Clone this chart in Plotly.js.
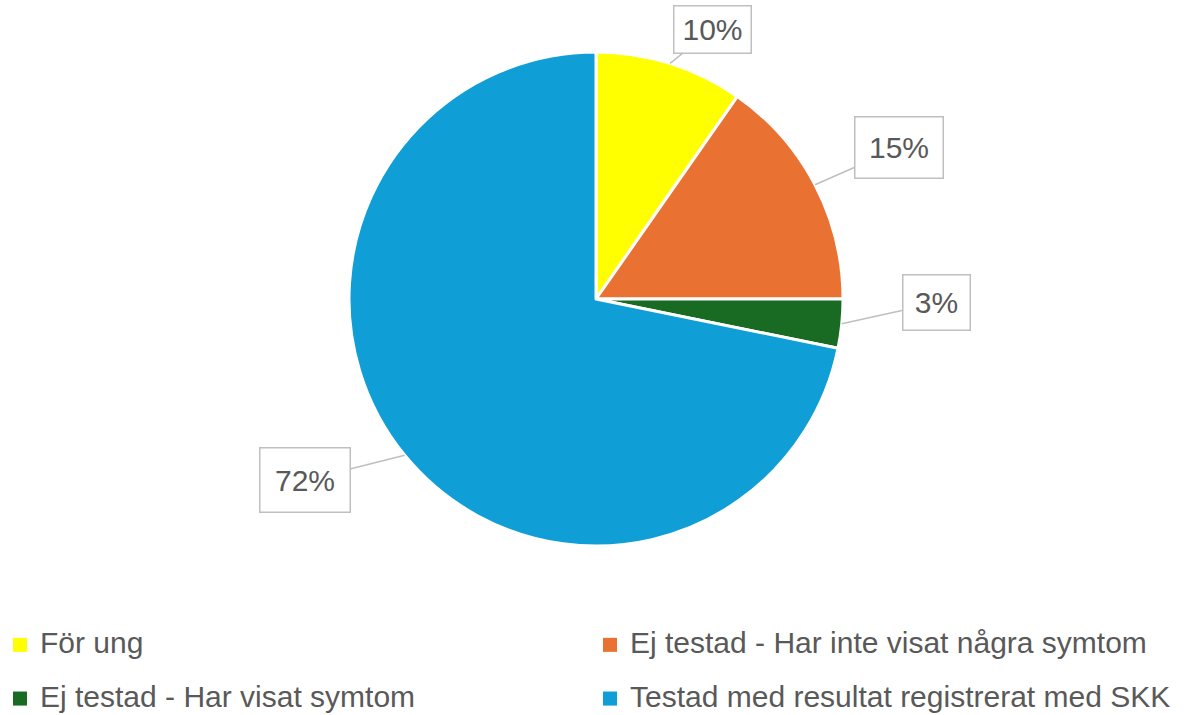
<!DOCTYPE html>
<html>
<head>
<meta charset="utf-8">
<script src="https://cdn.plot.ly/plotly-3.0.1.min.js"></script>
<style>
html,body{margin:0;padding:0;background:#fff;}
#chart{width:1197px;height:715px;}
#chart .legendpoints path{stroke-width:0 !important;}
#chart .legendpoints{transform:translate(-3.4px,7px) scale(1.17);}
</style>
</head>
<body>
<div id="chart"></div>
<script>
// Data
const categories = [
  "För ung",
  "Ej testad - Har inte visat några symtom",
  "Ej testad - Har visat symtom",
  "Testad med resultat registrerat med SKK"
];
const shares = [9.7, 15.3, 3.2, 71.8];
const colors = ["#FFFF00", "#E97132", "#196B24", "#0F9ED5"];

// Style / geometry
const W = 1197, H = 715;
const cx = 596, cy = 299, R = 247;
const labelOffsets = [[42, -34], [84, -37], [95, -21], [-100, 25]];
const boxSizes = [[76, 46], [87, 60], [66, 54], [89, 63]];
const textColor = "#595959";
const fontFam = "Liberation Sans, Arial, sans-serif";

const total = shares.reduce((a, b) => a + b, 0);
let cum = 0;
const annotations = shares.map((v, i) => {
  const mid = (cum + v / 2) / total;
  cum += v;
  const a = mid * 2 * Math.PI;
  const px = cx + R * Math.sin(a);
  const py = cy - R * Math.cos(a);
  return {
    x: px / W, y: 1 - py / H, xref: "paper", yref: "paper",
    text: Math.round(v / total * 100) + "%",
    showarrow: true, arrowhead: 0, arrowwidth: 1.5, arrowcolor: "#BFBFBF",
    ax: labelOffsets[i][0], ay: labelOffsets[i][1], standoff: 0,
    xanchor: "center", yanchor: "middle",
    width: boxSizes[i][0], height: boxSizes[i][1],
    bgcolor: "#FFFFFF", bordercolor: "#BFBFBF", borderwidth: 1.5, borderpad: 0,
    font: {family: fontFam, size: 30, color: textColor}
  };
});

const trace = {
  type: "pie",
  labels: categories.map(c => '<span style="font-size:30px">' + c + '</span>'),
  values: shares,
  sort: false,
  direction: "clockwise",
  rotation: 0,
  textinfo: "none",
  hoverinfo: "label+percent",
  marker: {colors: colors, line: {color: "#FFFFFF", width: 3}},
  domain: {x: [(cx - R) / W, (cx + R) / W], y: [1 - (cy + R) / H, 1 - (cy - R) / H]}
};

const layout = {
  width: W, height: H,
  margin: {l: 0, r: 0, t: 0, b: 0, autoexpand: false},
  paper_bgcolor: "#FFFFFF",
  showlegend: true,
  legend: {
    orientation: "h", x: 0, xanchor: "left", y: 1 - 606 / H, yanchor: "top",
    entrywidth: 545, entrywidthmode: "pixels",
    font: {family: fontFam, size: 39, color: textColor}
  },
  annotations: annotations
};

Plotly.newPlot("chart", [trace], layout, {displayModeBar: false, staticPlot: true});
</script>
</body>
</html>
